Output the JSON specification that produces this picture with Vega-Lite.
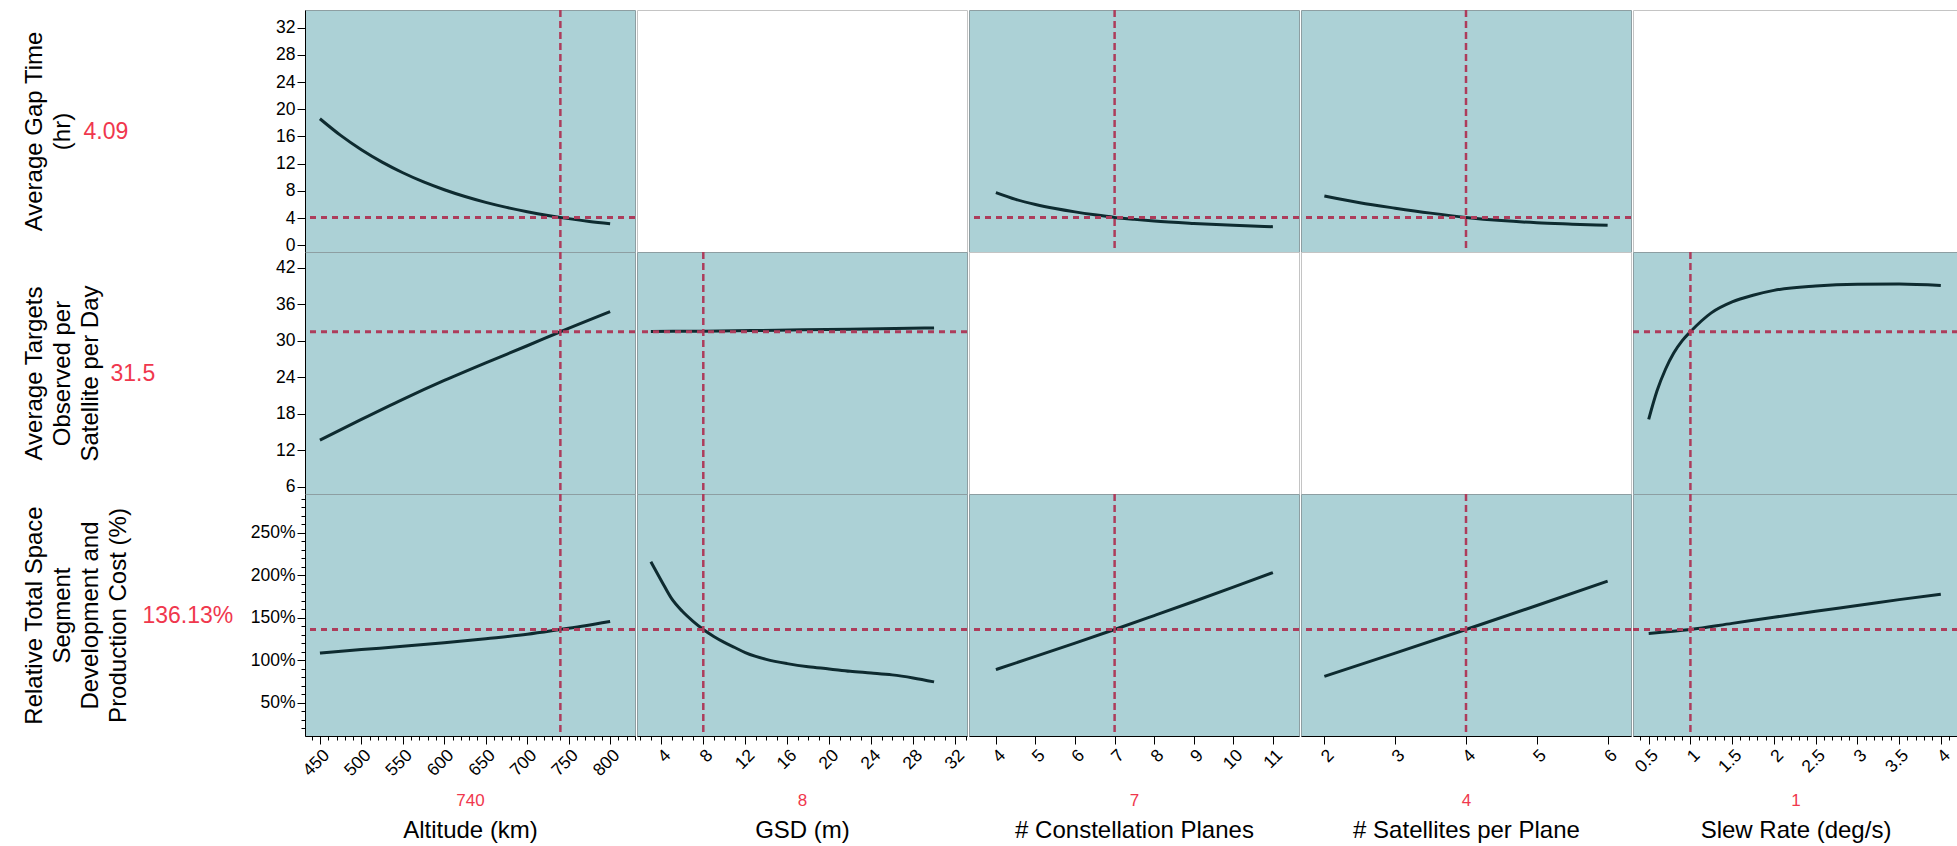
{
  "$schema": "https://vega.github.io/schema/vega-lite/v6.json",
  "padding": {"left": 21, "top": 8, "right": 0, "bottom": 0},
  "background": "#ffffff",
  "config": {
    "font": "Liberation Sans",
    "view": {"stroke": null},
    "axis": {
      "labelFont": "Liberation Sans",
      "titleFont": "Liberation Sans",
      "titleFontWeight": "normal",
      "labelColor": "#000000",
      "tickColor": "#000000",
      "domainColor": "#000000",
      "titleColor": "#000000",
      "grid": false,
      "labelFontSize": 17.5,
      "labelOverlap": false,
      "labelFlush": false,
      "labelBound": false
    }
  },
  "datasets": {
    "factors": [
      {"key": "alt", "name": "Altitude (km)", "current": 740},
      {"key": "gsd", "name": "GSD (m)", "current": 8},
      {"key": "planes", "name": "# Constellation Planes", "current": 7},
      {"key": "sats", "name": "# Satellites per Plane", "current": 4},
      {"key": "slew", "name": "Slew Rate (deg/s)", "current": 1}
    ],
    "responses": [
      {"key": "gap", "current": 4.09},
      {"key": "tgt", "current": 31.5},
      {"key": "cost", "current": 136.13}
    ],
    "alt_gap": [{"x":450,"y":18.6},{"x":475,"y":16.15},{"x":500,"y":14.04},{"x":525,"y":12.22},{"x":550,"y":10.66},{"x":575,"y":9.31},{"x":600,"y":8.16},{"x":625,"y":7.16},{"x":650,"y":6.3},{"x":675,"y":5.56},{"x":700,"y":4.93},{"x":725,"y":4.38},{"x":740,"y":4.09},{"x":750,"y":3.91},{"x":775,"y":3.5},{"x":800,"y":3.16}],
    "planes_gap": [{"x":4,"y":7.75},{"x":4.5,"y":6.75},{"x":5,"y":6.0},{"x":5.5,"y":5.4},{"x":6,"y":4.9},{"x":6.5,"y":4.47},{"x":7,"y":4.09},{"x":7.5,"y":3.8},{"x":8,"y":3.55},{"x":9,"y":3.2},{"x":10,"y":2.93},{"x":11,"y":2.72}],
    "sats_gap": [{"x":2,"y":7.25},{"x":2.5,"y":6.25},{"x":3,"y":5.45},{"x":3.5,"y":4.72},{"x":4,"y":4.09},{"x":4.5,"y":3.62},{"x":5,"y":3.3},{"x":5.5,"y":3.1},{"x":6,"y":2.92}],
    "alt_tgt": [{"x":450,"y":13.7},{"x":500,"y":17.1},{"x":550,"y":20.4},{"x":600,"y":23.5},{"x":650,"y":26.4},{"x":700,"y":29.2},{"x":740,"y":31.5},{"x":800,"y":34.8}],
    "gsd_tgt": [{"x":3,"y":31.55},{"x":8,"y":31.6},{"x":15,"y":31.75},{"x":22,"y":31.92},{"x":30,"y":32.12}],
    "slew_tgt": [{"x":0.5,"y":17.1},{"x":0.6,"y":21.8},{"x":0.7,"y":25.3},{"x":0.8,"y":28.0},{"x":0.9,"y":30.0},{"x":1.0,"y":31.5},{"x":1.25,"y":34.6},{"x":1.5,"y":36.4},{"x":1.75,"y":37.5},{"x":2.0,"y":38.3},{"x":2.5,"y":39.0},{"x":3.0,"y":39.3},{"x":3.5,"y":39.35},{"x":4.0,"y":39.1}],
    "alt_cost": [{"x":450,"y":108.5},{"x":500,"y":112.5},{"x":550,"y":116.3},{"x":600,"y":120.5},{"x":650,"y":125.3},{"x":700,"y":130.5},{"x":740,"y":136.13},{"x":770,"y":140.5},{"x":800,"y":145.5}],
    "gsd_cost": [{"x":3,"y":215.7},{"x":4,"y":193.5},{"x":5,"y":172},{"x":6,"y":157.5},{"x":7,"y":146},{"x":8,"y":136.13},{"x":9,"y":128},{"x":10,"y":121},{"x":11,"y":115},{"x":12,"y":109},{"x":13,"y":104.5},{"x":14,"y":101},{"x":16,"y":96},{"x":18,"y":92.3},{"x":20,"y":89.8},{"x":22,"y":87},{"x":24,"y":85},{"x":26,"y":82.8},{"x":28,"y":79.2},{"x":30,"y":74.6}],
    "planes_cost": [{"x":4,"y":89},{"x":5,"y":104.5},{"x":6,"y":120.2},{"x":7,"y":136.13},{"x":8,"y":152.5},{"x":9,"y":169},{"x":10,"y":185.8},{"x":11,"y":203}],
    "sats_cost": [{"x":2,"y":81},{"x":3,"y":108.4},{"x":4,"y":136.13},{"x":5,"y":164.3},{"x":6,"y":193}],
    "slew_cost": [{"x":0.5,"y":131.5},{"x":1,"y":136.13},{"x":1.5,"y":143.3},{"x":2,"y":150.5},{"x":2.5,"y":157.5},{"x":3,"y":164.3},{"x":3.5,"y":171.2},{"x":4,"y":177.5}]
  },
  "columns": 5,
  "spacing": {"row": 0, "column": 2},
  "bounds": "flush",
  "align": "each",
  "concat": [
    {
      "width": 330, "height": 242,
      "view": {"fill": "#acd1d6", "stroke": "#8d9ea2"},
      "layer": [
        {"data": {"name": "alt_gap"}, "mark": {"type": "line", "color": "#0e2b30", "strokeWidth": 3, "interpolate": "monotone"},
         "encoding": {
           "x": {"field": "x", "type": "quantitative", "scale": {"domain": [432, 830], "nice": false, "zero": false}, "axis": null},
           "y": {"field": "y", "type": "quantitative", "scale": {"domain": [-1, 34.6], "nice": false, "zero": false},
                 "axis": {"orient": "left", "values": [0,4,8,12,16,20,24,28,32], "tickSize": 8, "labelPadding": 2,
                          "title": ["Average Gap Time", "(hr)"], "titleFontSize": 24, "titleAngle": 270, "titleAlign": "center", "titleBaseline": "top",
                          "titleX": -283, "titleY": 121, "titleLineHeight": 28}}}},
        {"data": {"name": "responses"}, "transform": [{"filter": "datum.key === 'gap'"}],
         "mark": {"type": "rule", "color": "#ad3c5b", "strokeWidth": 3, "strokeDash": [6, 5]},
         "encoding": {"y": {"field": "current", "type": "quantitative", "scale": {"domain": [-1, 34.6], "nice": false, "zero": false},
                 "axis": {"orient": "left", "labels": false, "ticks": false, "domain": false, "title": "4.09", "titleFontSize": 23, "titleColor": "#f0374d",
                          "titleAngle": 0, "titleAlign": "left", "titleBaseline": "middle", "titleX": -222, "titleY": 121}}}},
        {"data": {"name": "factors"}, "transform": [{"filter": "datum.key === 'alt'"}],
         "mark": {"type": "rule", "color": "#ad3c5b", "strokeWidth": 2.5, "strokeDash": [7, 4]},
         "encoding": {"x": {"field": "current", "type": "quantitative", "scale": {"domain": [432, 830], "nice": false, "zero": false}, "axis": null}}}
      ],
      "resolve": {"axis": {"y": "independent"}}
    },
    {"width": 330, "height": 242, "view": {"fill": "#ffffff", "stroke": "#c4c4c4"}, "data": {"values": []}, "mark": "point"},
    {
      "width": 330, "height": 242,
      "view": {"fill": "#acd1d6", "stroke": "#8d9ea2"},
      "layer": [
        {"data": {"name": "planes_gap"}, "mark": {"type": "line", "color": "#0e2b30", "strokeWidth": 3, "interpolate": "monotone"},
         "encoding": {
           "x": {"field": "x", "type": "quantitative", "scale": {"domain": [3.32, 11.66], "nice": false, "zero": false}, "axis": null},
           "y": {"field": "y", "type": "quantitative", "scale": {"domain": [-1, 34.6], "nice": false, "zero": false}, "axis": null}}},
        {"data": {"name": "responses"}, "transform": [{"filter": "datum.key === 'gap'"}],
         "mark": {"type": "rule", "color": "#ad3c5b", "strokeWidth": 3, "strokeDash": [6, 5]},
         "encoding": {"y": {"field": "current", "type": "quantitative", "scale": {"domain": [-1, 34.6], "nice": false, "zero": false}, "axis": null}}},
        {"data": {"name": "factors"}, "transform": [{"filter": "datum.key === 'planes'"}],
         "mark": {"type": "rule", "color": "#ad3c5b", "strokeWidth": 2.5, "strokeDash": [7, 4]},
         "encoding": {"x": {"field": "current", "type": "quantitative", "scale": {"domain": [3.32, 11.66], "nice": false, "zero": false}, "axis": null}}}
      ]
    },
    {
      "width": 330, "height": 242,
      "view": {"fill": "#acd1d6", "stroke": "#8d9ea2"},
      "layer": [
        {"data": {"name": "sats_gap"}, "mark": {"type": "line", "color": "#0e2b30", "strokeWidth": 3, "interpolate": "monotone"},
         "encoding": {
           "x": {"field": "x", "type": "quantitative", "scale": {"domain": [1.67, 6.33], "nice": false, "zero": false}, "axis": null},
           "y": {"field": "y", "type": "quantitative", "scale": {"domain": [-1, 34.6], "nice": false, "zero": false}, "axis": null}}},
        {"data": {"name": "responses"}, "transform": [{"filter": "datum.key === 'gap'"}],
         "mark": {"type": "rule", "color": "#ad3c5b", "strokeWidth": 3, "strokeDash": [6, 5]},
         "encoding": {"y": {"field": "current", "type": "quantitative", "scale": {"domain": [-1, 34.6], "nice": false, "zero": false}, "axis": null}}},
        {"data": {"name": "factors"}, "transform": [{"filter": "datum.key === 'sats'"}],
         "mark": {"type": "rule", "color": "#ad3c5b", "strokeWidth": 2.5, "strokeDash": [7, 4]},
         "encoding": {"x": {"field": "current", "type": "quantitative", "scale": {"domain": [1.67, 6.33], "nice": false, "zero": false}, "axis": null}}}
      ]
    },
    {"width": 325, "height": 242, "view": {"fill": "#ffffff", "stroke": "#c4c4c4"}, "data": {"values": []}, "mark": "point"},

    {
      "width": 330, "height": 242,
      "view": {"fill": "#acd1d6", "stroke": "#8d9ea2"},
      "layer": [
        {"data": {"name": "alt_tgt"}, "mark": {"type": "line", "color": "#0e2b30", "strokeWidth": 3, "interpolate": "monotone"},
         "encoding": {
           "x": {"field": "x", "type": "quantitative", "scale": {"domain": [432, 830], "nice": false, "zero": false}, "axis": null},
           "y": {"field": "y", "type": "quantitative", "scale": {"domain": [4.85, 44.6], "nice": false, "zero": false},
                 "axis": {"orient": "left", "values": [6,12,18,24,30,36,42], "tickSize": 8, "labelPadding": 2,
                          "title": ["Average Targets", "Observed per", "Satellite per Day"], "titleFontSize": 24, "titleAngle": 270, "titleAlign": "center", "titleBaseline": "top",
                          "titleX": -283, "titleY": 121, "titleLineHeight": 28}}}},
        {"data": {"name": "responses"}, "transform": [{"filter": "datum.key === 'tgt'"}],
         "mark": {"type": "rule", "color": "#ad3c5b", "strokeWidth": 3, "strokeDash": [6, 5]},
         "encoding": {"y": {"field": "current", "type": "quantitative", "scale": {"domain": [4.85, 44.6], "nice": false, "zero": false},
                 "axis": {"orient": "left", "labels": false, "ticks": false, "domain": false, "title": "31.5", "titleFontSize": 23, "titleColor": "#f0374d",
                          "titleAngle": 0, "titleAlign": "left", "titleBaseline": "middle", "titleX": -195, "titleY": 121}}}},
        {"data": {"name": "factors"}, "transform": [{"filter": "datum.key === 'alt'"}],
         "mark": {"type": "rule", "color": "#ad3c5b", "strokeWidth": 2.5, "strokeDash": [7, 4]},
         "encoding": {"x": {"field": "current", "type": "quantitative", "scale": {"domain": [432, 830], "nice": false, "zero": false}, "axis": null}}}
      ],
      "resolve": {"axis": {"y": "independent"}}
    },
    {
      "width": 330, "height": 242,
      "view": {"fill": "#acd1d6", "stroke": "#8d9ea2"},
      "layer": [
        {"data": {"name": "gsd_tgt"}, "mark": {"type": "line", "color": "#0e2b30", "strokeWidth": 3, "interpolate": "monotone"},
         "encoding": {
           "x": {"field": "x", "type": "quantitative", "scale": {"domain": [1.68, 33.14], "nice": false, "zero": false}, "axis": null},
           "y": {"field": "y", "type": "quantitative", "scale": {"domain": [4.85, 44.6], "nice": false, "zero": false}, "axis": null}}},
        {"data": {"name": "responses"}, "transform": [{"filter": "datum.key === 'tgt'"}],
         "mark": {"type": "rule", "color": "#ad3c5b", "strokeWidth": 3, "strokeDash": [6, 5]},
         "encoding": {"y": {"field": "current", "type": "quantitative", "scale": {"domain": [4.85, 44.6], "nice": false, "zero": false}, "axis": null}}},
        {"data": {"name": "factors"}, "transform": [{"filter": "datum.key === 'gsd'"}],
         "mark": {"type": "rule", "color": "#ad3c5b", "strokeWidth": 2.5, "strokeDash": [7, 4]},
         "encoding": {"x": {"field": "current", "type": "quantitative", "scale": {"domain": [1.68, 33.14], "nice": false, "zero": false}, "axis": null}}}
      ]
    },
    {"width": 330, "height": 242, "view": {"fill": "#ffffff", "stroke": "#c4c4c4"}, "data": {"values": []}, "mark": "point"},
    {"width": 330, "height": 242, "view": {"fill": "#ffffff", "stroke": "#c4c4c4"}, "data": {"values": []}, "mark": "point"},
    {
      "width": 325, "height": 242,
      "view": {"fill": "#acd1d6", "stroke": "#8d9ea2"},
      "layer": [
        {"data": {"name": "slew_tgt"}, "mark": {"type": "line", "color": "#0e2b30", "strokeWidth": 3, "interpolate": "monotone"},
         "encoding": {
           "x": {"field": "x", "type": "quantitative", "scale": {"domain": [0.312, 4.206], "nice": false, "zero": false}, "axis": null},
           "y": {"field": "y", "type": "quantitative", "scale": {"domain": [4.85, 44.6], "nice": false, "zero": false}, "axis": null}}},
        {"data": {"name": "responses"}, "transform": [{"filter": "datum.key === 'tgt'"}],
         "mark": {"type": "rule", "color": "#ad3c5b", "strokeWidth": 3, "strokeDash": [6, 5]},
         "encoding": {"y": {"field": "current", "type": "quantitative", "scale": {"domain": [4.85, 44.6], "nice": false, "zero": false}, "axis": null}}},
        {"data": {"name": "factors"}, "transform": [{"filter": "datum.key === 'slew'"}],
         "mark": {"type": "rule", "color": "#ad3c5b", "strokeWidth": 2.5, "strokeDash": [7, 4]},
         "encoding": {"x": {"field": "current", "type": "quantitative", "scale": {"domain": [0.312, 4.206], "nice": false, "zero": false}, "axis": null}}}
      ]
    },

    {
      "width": 330, "height": 242,
      "view": {"fill": "#acd1d6", "stroke": "#8d9ea2"},
      "layer": [
        {"data": {"name": "alt_cost"}, "mark": {"type": "line", "color": "#0e2b30", "strokeWidth": 3, "interpolate": "monotone"},
         "encoding": {
           "x": {"field": "x", "type": "quantitative", "scale": {"domain": [432, 830], "nice": false, "zero": false},
                 "axis": {"orient": "bottom", "values": [440,450,460,470,480,490,500,510,520,530,540,550,560,570,580,590,600,610,620,630,640,650,660,670,680,690,700,710,720,730,740,750,760,770,780,790,800,810,820,830],
                          "labelExpr": "datum.value % 50 === 0 ? toString(datum.value) : ''",
                          "tickSize": {"condition": {"test": "datum.value % 50 !== 0", "value": 4}, "value": 8},
                          "labelAngle": -45, "labelPadding": 2,
                          "title": "740", "titleColor": "#f0374d", "titleFontSize": 17, "titleY": 64.5, "titleBaseline": "middle"}},
           "y": {"field": "y", "type": "quantitative", "scale": {"domain": [11, 295.3], "nice": false, "zero": false},
                 "axis": {"orient": "left", "values": [20,30,40,50,60,70,80,90,100,110,120,130,140,150,160,170,180,190,200,210,220,230,240,250,260,270,280,290],
                          "labelExpr": "datum.value % 50 === 0 ? datum.value + '%' : ''",
                          "tickSize": {"condition": {"test": "datum.value % 50 !== 0", "value": 4}, "value": 8}, "labelPadding": 2,
                          "title": ["Relative Total Space", "Segment", "Development and", "Production Cost (%)"], "titleFontSize": 24, "titleAngle": 270, "titleAlign": "center", "titleBaseline": "top",
                          "titleX": -283, "titleY": 121, "titleLineHeight": 28}}}},
        {"data": {"name": "responses"}, "transform": [{"filter": "datum.key === 'cost'"}],
         "mark": {"type": "rule", "color": "#ad3c5b", "strokeWidth": 3, "strokeDash": [6, 5]},
         "encoding": {"y": {"field": "current", "type": "quantitative", "scale": {"domain": [11, 295.3], "nice": false, "zero": false},
                 "axis": {"orient": "left", "labels": false, "ticks": false, "domain": false, "title": "136.13%", "titleFontSize": 23, "titleColor": "#f0374d",
                          "titleAngle": 0, "titleAlign": "left", "titleBaseline": "middle", "titleX": -163, "titleY": 121}}}},
        {"data": {"name": "factors"}, "transform": [{"filter": "datum.key === 'alt'"}],
         "mark": {"type": "rule", "color": "#ad3c5b", "strokeWidth": 2.5, "strokeDash": [7, 4]},
         "encoding": {"x": {"field": "current", "type": "quantitative", "scale": {"domain": [432, 830], "nice": false, "zero": false},
                 "axis": {"orient": "bottom", "labels": false, "ticks": false, "domain": false, "title": "Altitude (km)", "titleFontSize": 24, "titleY": 94, "titleBaseline": "middle"}}}}
      ],
      "resolve": {"axis": {"x": "independent", "y": "independent"}}
    },
    {
      "width": 330, "height": 242,
      "view": {"fill": "#acd1d6", "stroke": "#8d9ea2"},
      "layer": [
        {"data": {"name": "gsd_cost"}, "mark": {"type": "line", "color": "#0e2b30", "strokeWidth": 3, "interpolate": "monotone"},
         "encoding": {
           "x": {"field": "x", "type": "quantitative", "scale": {"domain": [1.68, 33.14], "nice": false, "zero": false},
                 "axis": {"orient": "bottom", "values": [2,3,4,5,6,7,8,9,10,11,12,13,14,15,16,17,18,19,20,21,22,23,24,25,26,27,28,29,30,31,32,33],
                          "labelExpr": "datum.value % 4 === 0 ? toString(datum.value) : ''",
                          "tickSize": {"condition": {"test": "datum.value % 4 !== 0", "value": 4}, "value": 8},
                          "labelAngle": -45, "labelPadding": 2,
                          "title": "8", "titleColor": "#f0374d", "titleFontSize": 17, "titleY": 64.5, "titleBaseline": "middle"}},
           "y": {"field": "y", "type": "quantitative", "scale": {"domain": [11, 295.3], "nice": false, "zero": false}, "axis": null}}},
        {"data": {"name": "responses"}, "transform": [{"filter": "datum.key === 'cost'"}],
         "mark": {"type": "rule", "color": "#ad3c5b", "strokeWidth": 3, "strokeDash": [6, 5]},
         "encoding": {"y": {"field": "current", "type": "quantitative", "scale": {"domain": [11, 295.3], "nice": false, "zero": false}, "axis": null}}},
        {"data": {"name": "factors"}, "transform": [{"filter": "datum.key === 'gsd'"}],
         "mark": {"type": "rule", "color": "#ad3c5b", "strokeWidth": 2.5, "strokeDash": [7, 4]},
         "encoding": {"x": {"field": "current", "type": "quantitative", "scale": {"domain": [1.68, 33.14], "nice": false, "zero": false},
                 "axis": {"orient": "bottom", "labels": false, "ticks": false, "domain": false, "title": "GSD (m)", "titleFontSize": 24, "titleY": 94, "titleBaseline": "middle"}}}}
      ],
      "resolve": {"axis": {"x": "independent"}}
    },
    {
      "width": 330, "height": 242,
      "view": {"fill": "#acd1d6", "stroke": "#8d9ea2"},
      "layer": [
        {"data": {"name": "planes_cost"}, "mark": {"type": "line", "color": "#0e2b30", "strokeWidth": 3, "interpolate": "monotone"},
         "encoding": {
           "x": {"field": "x", "type": "quantitative", "scale": {"domain": [3.32, 11.66], "nice": false, "zero": false},
                 "axis": {"orient": "bottom", "values": [4,5,6,7,8,9,10,11],
                          "labelExpr": "toString(datum.value)", "tickSize": 8,
                          "labelAngle": -45, "labelPadding": 2,
                          "title": "7", "titleColor": "#f0374d", "titleFontSize": 17, "titleY": 64.5, "titleBaseline": "middle"}},
           "y": {"field": "y", "type": "quantitative", "scale": {"domain": [11, 295.3], "nice": false, "zero": false}, "axis": null}}},
        {"data": {"name": "responses"}, "transform": [{"filter": "datum.key === 'cost'"}],
         "mark": {"type": "rule", "color": "#ad3c5b", "strokeWidth": 3, "strokeDash": [6, 5]},
         "encoding": {"y": {"field": "current", "type": "quantitative", "scale": {"domain": [11, 295.3], "nice": false, "zero": false}, "axis": null}}},
        {"data": {"name": "factors"}, "transform": [{"filter": "datum.key === 'planes'"}],
         "mark": {"type": "rule", "color": "#ad3c5b", "strokeWidth": 2.5, "strokeDash": [7, 4]},
         "encoding": {"x": {"field": "current", "type": "quantitative", "scale": {"domain": [3.32, 11.66], "nice": false, "zero": false},
                 "axis": {"orient": "bottom", "labels": false, "ticks": false, "domain": false, "title": "# Constellation Planes", "titleFontSize": 24, "titleY": 94, "titleBaseline": "middle"}}}}
      ],
      "resolve": {"axis": {"x": "independent"}}
    },
    {
      "width": 330, "height": 242,
      "view": {"fill": "#acd1d6", "stroke": "#8d9ea2"},
      "layer": [
        {"data": {"name": "sats_cost"}, "mark": {"type": "line", "color": "#0e2b30", "strokeWidth": 3, "interpolate": "monotone"},
         "encoding": {
           "x": {"field": "x", "type": "quantitative", "scale": {"domain": [1.67, 6.33], "nice": false, "zero": false},
                 "axis": {"orient": "bottom", "values": [2,3,4,5,6],
                          "labelExpr": "toString(datum.value)", "tickSize": 8,
                          "labelAngle": -45, "labelPadding": 2,
                          "title": "4", "titleColor": "#f0374d", "titleFontSize": 17, "titleY": 64.5, "titleBaseline": "middle"}},
           "y": {"field": "y", "type": "quantitative", "scale": {"domain": [11, 295.3], "nice": false, "zero": false}, "axis": null}}},
        {"data": {"name": "responses"}, "transform": [{"filter": "datum.key === 'cost'"}],
         "mark": {"type": "rule", "color": "#ad3c5b", "strokeWidth": 3, "strokeDash": [6, 5]},
         "encoding": {"y": {"field": "current", "type": "quantitative", "scale": {"domain": [11, 295.3], "nice": false, "zero": false}, "axis": null}}},
        {"data": {"name": "factors"}, "transform": [{"filter": "datum.key === 'sats'"}],
         "mark": {"type": "rule", "color": "#ad3c5b", "strokeWidth": 2.5, "strokeDash": [7, 4]},
         "encoding": {"x": {"field": "current", "type": "quantitative", "scale": {"domain": [1.67, 6.33], "nice": false, "zero": false},
                 "axis": {"orient": "bottom", "labels": false, "ticks": false, "domain": false, "title": "# Satellites per Plane", "titleFontSize": 24, "titleY": 94, "titleBaseline": "middle"}}}}
      ],
      "resolve": {"axis": {"x": "independent"}}
    },
    {
      "width": 325, "height": 242,
      "view": {"fill": "#acd1d6", "stroke": "#8d9ea2"},
      "layer": [
        {"data": {"name": "slew_cost"}, "mark": {"type": "line", "color": "#0e2b30", "strokeWidth": 3, "interpolate": "monotone"},
         "encoding": {
           "x": {"field": "x", "type": "quantitative", "scale": {"domain": [0.312, 4.206], "nice": false, "zero": false},
                 "axis": {"orient": "bottom", "values": [0.4,0.5,0.6,0.7,0.8,0.9,1,1.1,1.2,1.3,1.4,1.5,1.6,1.7,1.8,1.9,2,2.1,2.2,2.3,2.4,2.5,2.6,2.7,2.8,2.9,3,3.1,3.2,3.3,3.4,3.5,3.6,3.7,3.8,3.9,4,4.1,4.2],
                          "labelExpr": "abs(datum.value * 2 - round(datum.value * 2)) < 0.001 ? toString(datum.value) : ''",
                          "tickSize": {"condition": {"test": "abs(datum.value * 2 - round(datum.value * 2)) > 0.001", "value": 4}, "value": 8},
                          "labelAngle": -45, "labelPadding": 2,
                          "title": "1", "titleColor": "#f0374d", "titleFontSize": 17, "titleY": 64.5, "titleBaseline": "middle"}},
           "y": {"field": "y", "type": "quantitative", "scale": {"domain": [11, 295.3], "nice": false, "zero": false}, "axis": null}}},
        {"data": {"name": "responses"}, "transform": [{"filter": "datum.key === 'cost'"}],
         "mark": {"type": "rule", "color": "#ad3c5b", "strokeWidth": 3, "strokeDash": [6, 5]},
         "encoding": {"y": {"field": "current", "type": "quantitative", "scale": {"domain": [11, 295.3], "nice": false, "zero": false}, "axis": null}}},
        {"data": {"name": "factors"}, "transform": [{"filter": "datum.key === 'slew'"}],
         "mark": {"type": "rule", "color": "#ad3c5b", "strokeWidth": 2.5, "strokeDash": [7, 4]},
         "encoding": {"x": {"field": "current", "type": "quantitative", "scale": {"domain": [0.312, 4.206], "nice": false, "zero": false},
                 "axis": {"orient": "bottom", "labels": false, "ticks": false, "domain": false, "title": "Slew Rate (deg/s)", "titleFontSize": 24, "titleY": 94, "titleBaseline": "middle"}}}}
      ],
      "resolve": {"axis": {"x": "independent"}}
    }
  ]
}
